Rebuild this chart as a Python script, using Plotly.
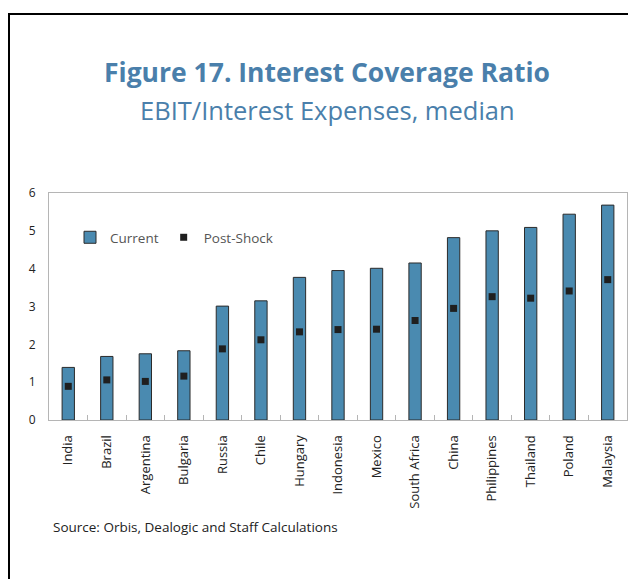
import plotly.graph_objects as go

countries = ["India", "Brazil", "Argentina", "Bulgaria", "Russia", "Chile", "Hungary",
             "Indonesia", "Mexico", "South Africa", "China", "Philippines", "Thailand",
             "Poland", "Malaysia"]
current = [1.39, 1.68, 1.75, 1.83, 3.01, 3.15, 3.77, 3.95, 4.01, 4.15, 4.82, 5.00, 5.09, 5.44, 5.68]
post_shock = [0.89, 1.06, 1.02, 1.16, 1.88, 2.12, 2.33, 2.39, 2.40, 2.63, 2.95, 3.26, 3.22, 3.41, 3.71]
y_ticks = [0, 1, 2, 3, 4, 5, 6]

FONT = "Open Sans"
TITLE_COLOR = "#4a7fab"

fig = go.Figure()
fig.add_trace(go.Bar(
    x=countries, y=current, name="Current", width=0.32,
    marker=dict(color="#4a8ab0", line=dict(color="#2b2b2b", width=1)),
))
fig.add_trace(go.Scatter(
    x=countries, y=post_shock, name="Post-Shock", mode="markers",
    marker=dict(symbol="square", size=7, color="#1f1f1f"),
))

OFF = 8  # browser body margin
W, H = 636 - OFF, 579 - OFF
L = 49 - OFF
T = 193 - OFF
B = H - (420 - OFF)
R = W - (627 - OFF)
pw, ph = W - L - R, H - T - B

def px(x):
    return (x - OFF - L) / pw

def py(y):
    return (H - B - (y - OFF)) / ph

fig.update_layout(
    width=W, height=H,
    margin=dict(l=L, r=R, t=T, b=B),
    paper_bgcolor="white", plot_bgcolor="white",
    font=dict(family=FONT, size=11, color="#333"),
    showlegend=True,
    legend=dict(orientation="h", x=px(70), y=py(222), xanchor="left", yanchor="top",
                bgcolor="rgba(0,0,0,0)", font=dict(size=13.5, color="#555"),
                itemwidth=30, traceorder="normal"),
    xaxis=dict(type="category", tickangle=-90, showline=True, linecolor="#b5b5b5",
               mirror=True, ticks="inside", tickson="boundaries", ticklen=5,
               tickcolor="#b5b5b5", showgrid=False, tickfont=dict(size=13, color="#222"),
               ticklabelstandoff=9, range=[-0.5, 14.5]),
    yaxis=dict(range=[0, 6], tickvals=y_ticks, showline=True, linecolor="#b5b5b5",
               mirror=True, showgrid=False, zeroline=False, ticks="",
               tickfont=dict(size=12, color="#222"), ticklabelstandoff=10),
    shapes=[dict(type="rect", xref="paper", yref="paper",
                 x0=px(9), x1=px(645), y0=py(590), y1=py(14),
                 line=dict(color="black", width=2), fillcolor="rgba(0,0,0,0)")],
    annotations=[
        dict(text="<b>Figure 17. Interest Coverage Ratio</b>", xref="paper", yref="paper",
             x=px(327), y=py(72), xanchor="center", yanchor="middle", showarrow=False,
             font=dict(size=26.5, color=TITLE_COLOR, family=FONT)),
        dict(text="EBIT/Interest Expenses, median", xref="paper", yref="paper",
             x=px(327), y=py(110), xanchor="center", yanchor="middle", showarrow=False,
             font=dict(size=25.5, color=TITLE_COLOR, family=FONT)),
        dict(text="Source: Orbis, Dealogic and Staff Calculations", xref="paper", yref="paper",
             x=px(51), y=py(527), xanchor="left", yanchor="middle", showarrow=False,
             font=dict(size=13.5, color="#222", family=FONT)),
    ],
)

fig.write_html("out.html")
